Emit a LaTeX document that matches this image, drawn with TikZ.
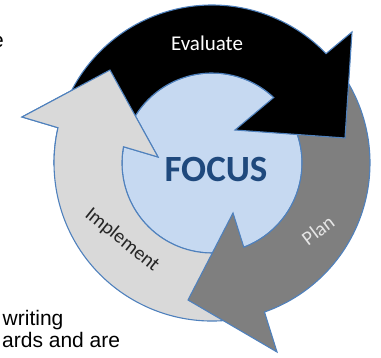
\documentclass[tikz,border=0pt]{standalone}
\usepackage{fontspec}
\setmainfont{Carlito}
\newfontfamily\arialf{Liberation Sans}
\definecolor{ringblue}{HTML}{4F81BD}
\definecolor{innerblue}{HTML}{C6D9F1}
\definecolor{lgray}{HTML}{D9D9D9}
\definecolor{dgray}{HTML}{7F7F7F}
\definecolor{focusblue}{HTML}{1F497D}
\begin{document}
\begin{tikzpicture}[x=1pt,y=1pt,
  arrowshape/.style={draw=ringblue, line width=1.1pt, line join=miter},
  ringlabel/.style={inner sep=0pt, font=\fontsize{20}{24}\selectfont},
  pagetext/.style={inner sep=0pt, font=\arialf\fontsize{21}{25}\selectfont, text=black}]
\useasboundingbox (0,0) rectangle (381,358);
\coordinate (C) at (212,195);
\begin{scope}[shift={(C)}]
  % inner circle
  \path[fill=innerblue, draw=ringblue, line width=1.1pt] (0,0) circle[radius=90pt];
  % Implement (light gray)
  \path[arrowshape, fill=lgray] (285:158pt) arc[start angle=285, end angle=167.1, radius=158pt]
     -- (-190,46) -- (-102,93) -- (-54,6) -- (169.6:90pt)
     arc[start angle=169.6, end angle=285, radius=90pt] -- cycle;
  % Plan (dark gray)
  \path[arrowshape, fill=dgray] (35:158pt) arc[start angle=35, end angle=-70.6, radius=158pt]
     -- (65,-189) -- (-24,-137) -- (21,-50) -- (-69.3:90pt)
     arc[start angle=-69.3, end angle=35, radius=90pt] -- cycle;
  % Evaluate (black)
  \path[arrowshape, fill=black] (158:158pt) arc[start angle=158, end angle=43.8, radius=158pt]
     -- (140,131) -- (133,25) -- (23,33) -- (46.7:90pt)
     arc[start angle=46.7, end angle=158, radius=90pt] -- cycle;
  % light gray head again on top of the black tail
  \begin{scope}
    \clip (-212,-2) rectangle (-12,163);
    \path[arrowshape, fill=lgray] (285:158pt) arc[start angle=285, end angle=167.1, radius=158pt]
       -- (-190,46) -- (-102,93) -- (-54,6) -- (169.6:90pt)
       arc[start angle=169.6, end angle=285, radius=90pt] -- cycle;
  \end{scope}
\end{scope}
\node[ringlabel, text=white, font=\fontsize{21}{25}\selectfont] (evaluate) at (207,315) {Evaluate};
\node[ringlabel, text=black!85, rotate=-39] (implement) at (122,118) {Implement};
\node[ringlabel, text=white!90!black, rotate=37] (plan) at (318,128) {Plan};
\node[inner sep=0pt, text=focusblue, font=\bfseries\fontsize{37}{44}\selectfont] (focus) at (216,188) {FOCUS};
\node[pagetext, anchor=base east] (frag1) at (4.1,310) {e};
\node[pagetext, anchor=base west] (frag2) at (2.5,32) {writing};
\node[pagetext, anchor=base west] (frag3) at (2,10) {ards and are};
\end{tikzpicture}
\end{document}
